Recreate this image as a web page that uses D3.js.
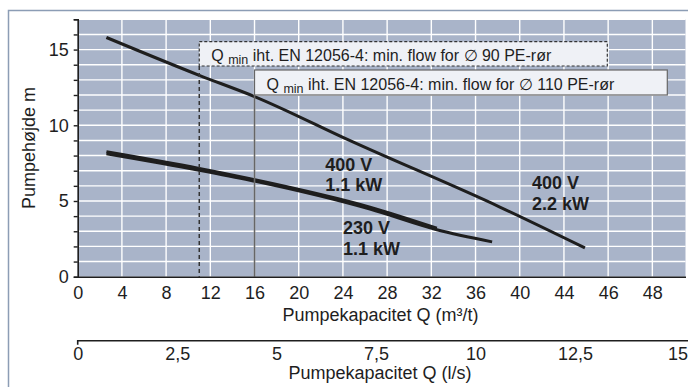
<!DOCTYPE html>
<html><head><meta charset="utf-8">
<script src="https://cdn.jsdelivr.net/npm/d3@7"></script>
<style>
html,body{margin:0;padding:0;background:#fff;}
svg{display:block;font-family:"Liberation Sans",Arial,sans-serif;}
</style></head>
<body>
<svg id="chart" width="688" height="387"></svg>
<script>
// ---- data ----
const xTickLabels = ["0","4","8","12","16","20","24","28","32","36","40","44","46","48"];
const yTicks = [0,5,10,15];
const lsTickValues = [0,2.5,5,7.5,10,12.5,15];
const lsTickLabels = ["0","2,5","5","7,5","10","12,5","15"];
const curve400v22 = [[2.6,15.8],[11,13.3],[16,11.9],[24.6,9.0],[38.2,4.6],[45.9,1.9]];
const curve400v11 = [[2.6,8.12],[11,7.03],[15.6,6.37],[26.45,4.46],[32.5,3.1],[37.5,2.3]];
const curve230v11 = [[2.6,8.25],[11,7.15],[15.6,6.47],[26.45,4.59],[32.5,3.2]];
const qmin90 = 11;   // m3/t
const qmin110 = 16;  // m3/t
const box90Text = ["Q ","min"," iht. EN 12056-4: min. flow for \u2205 90 PE-rør"];
const box110Text = ["Q ","min"," iht. EN 12056-4: min. flow for \u2205 110 PE-rør"];
const labels = [
  {x:22.4, y:7.0, lines:["400 V","1.1 kW"]},
  {x:24.0, y:2.8, lines:["230 V","1.1 kW"]},
  {x:41.1, y:5.8, lines:["400 V","2.2 kW"]}
];
const xTitle = "Pumpekapacitet Q (m³/t)";
const lsTitle = "Pumpekapacitet Q (l/s)";
const yTitle = "Pumpehøjde m";

// ---- layout ----
const svg = d3.select("#chart");
const x = d3.scaleLinear().domain([0,55]).range([77.7,685.5]);
const y = d3.scaleLinear().domain([0,17]).range([276.7,19.3]);
const xls = d3.scaleLinear().domain([0,55/3.6]).range([77.7,685.5]);
const ink = "#1e1e1e";

// outer frame
svg.append("path").attr("d","M8.5,387 V10.5 H688").attr("fill","none").attr("stroke","#8c9db5").attr("stroke-width",1.5);

// plot background
svg.append("rect").attr("x",x(0)).attr("y",y(17)).attr("width",x(55)-x(0)).attr("height",y(0)-y(17)).attr("fill","#a9b4c9");

// grid
const g = svg.append("g");
g.selectAll(".hg").data(d3.range(1,18)).enter().append("line")
  .attr("x1",x(0)).attr("x2",x(55)).attr("y1",d=>y(d)).attr("y2",d=>y(d))
  .attr("stroke","#fff").attr("stroke-width",1.4);
g.selectAll(".vg").data(d3.range(1,14)).enter().append("line")
  .attr("x1",d=>x(d*4)).attr("x2",d=>x(d*4)).attr("y1",y(0)).attr("y2",y(17))
  .attr("stroke","#fff").attr("stroke-width",1.4);

// curves
const line = d3.line().x(d=>x(d[0])).y(d=>y(d[1])).curve(d3.curveMonotoneX);
[curve400v11, curve230v11, curve400v22].forEach(c=>{
  svg.append("path").attr("d",line(c)).attr("fill","none").attr("stroke",ink).attr("stroke-width",3);
});

// Qmin boxes
function box(xq, yTop, yBot, right, parts, dashed, color){
  svg.append("rect").attr("x",x(xq)).attr("y",yTop).attr("width",right-x(xq)).attr("height",yBot-yTop)
    .attr("fill","#eff1f6").attr("stroke",color).attr("stroke-width",1.2)
    .attr("stroke-dasharray",dashed?"3,2":null);
  svg.append("line").attr("x1",x(xq)).attr("x2",x(xq)).attr("y1",yBot).attr("y2",y(0))
    .attr("stroke",color).attr("stroke-width",dashed?1.5:1.6).attr("stroke-dasharray",dashed?"4,3":null);
  const t = svg.append("text").attr("x",x(xq)+12).attr("y",yBot-5.5).attr("fill",ink).attr("font-size",16);
  t.append("tspan").text(parts[0]);
  t.append("tspan").attr("font-size",12.5).attr("dy",3).text(parts[1]);
  t.append("tspan").attr("dy",-3).text(parts[2]);
}
box(qmin90, 41.7, 66, 607.3, box90Text, true, "#333");
box(qmin110, 70, 95, 667.3, box110Text, false, "#666");

// curve labels
labels.forEach(l=>{
  const t = svg.append("text").attr("x",x(l.x)).attr("y",y(l.y)).attr("font-size",18).attr("font-weight","bold").attr("fill",ink);
  l.lines.forEach((s,i)=>t.append("tspan").attr("x",x(l.x)).attr("dy",i?20.7:0).text(s));
});

// y axis
const ya = svg.append("g").attr("transform",`translate(${x(0)},0)`)
  .call(d3.axisLeft(y).tickValues(d3.range(0,18)).tickSize(4).tickFormat(d=>yTicks.includes(d)?d:""));
ya.select(".domain").attr("stroke",ink).attr("stroke-width",1.6);
ya.selectAll(".tick line").attr("stroke",ink).attr("stroke-width",1.4);
ya.selectAll("text").attr("font-size",18).attr("fill",ink).attr("font-family","Liberation Sans, Arial").attr("x",-9);

// x axis (m3/t)
const xa = svg.append("g").attr("transform",`translate(0,${y(0)})`)
  .call(d3.axisBottom(x).tickValues(xTickLabels.map((d,i)=>i*4)).tickSize(0).tickSizeOuter(0).tickFormat((d,i)=>xTickLabels[i]));
xa.select(".domain").attr("stroke",ink).attr("stroke-width",1.6);
xa.selectAll("text").attr("font-size",18).attr("fill",ink).attr("font-family","Liberation Sans, Arial").attr("dy",0).attr("y",22);
svg.append("text").attr("x",380.5).attr("y",321).attr("text-anchor","middle").attr("font-size",18).attr("fill",ink).text(xTitle);

// second x axis (l/s)
const la = svg.append("g").attr("transform","translate(0,340.7)")
  .call(d3.axisBottom(xls).tickValues(lsTickValues).tickSize(0).tickSizeOuter(4).tickFormat((d,i)=>lsTickLabels[i]));
la.select(".domain").attr("stroke",ink).attr("stroke-width",1.6).attr("d",`M${xls(0)},4V0H688`);
la.selectAll("text").attr("font-size",18).attr("fill",ink).attr("font-family","Liberation Sans, Arial").attr("dy",0).attr("y",19.5);
la.selectAll(".tick").filter((d,i)=>i===lsTickValues.length-1).select("text")
  .attr("text-anchor","end").attr("x",687.5-xls(15));
svg.append("text").attr("x",380).attr("y",379).attr("text-anchor","middle").attr("font-size",18).attr("fill",ink).text(lsTitle);

// y title
svg.append("text").attr("transform","translate(35,148) rotate(-90)").attr("text-anchor","middle").attr("font-size",18).attr("fill",ink).text(yTitle);
</script>
</body></html>
